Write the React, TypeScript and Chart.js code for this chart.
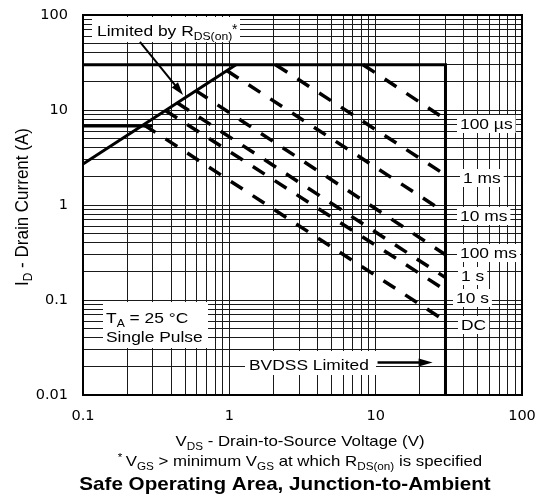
import React, { useEffect, useRef } from "react";
import { Chart, registerables } from "chart.js";

Chart.register(...registerables);

// ---- axis ticks ----
const xDecades = [0.1, 1, 10];
const yDecades = [0.01, 0.1, 1, 10];
const minorSteps = [1, 2, 3, 4, 5, 6, 7, 8, 9];
const xTickValues = [0.1, 1, 10, 100];
const xTickLabels = ["0.1", "1", "10", "100"];
const yTickValues = [0.01, 0.1, 1, 10, 100];
const yTickLabels = ["0.01", "0.1", "1", "10", "100"];

// ---- solid limit lines (V, A) ----
const packageLimitV = [0.1, 30, 30];
const packageLimitI = [30, 30, 0.01];
const rdsLimitV = [0.1, 1.11];
const rdsLimitI = [2.7, 30];
const dcCurrentV = [0.1, 0.3];
const dcCurrentI = [6.8, 6.8];

// ---- dashed pulse lines ----
const pulseLabels = ["100 µs", "1 ms", "10 ms", "100 ms", "1 s", "10 s", "DC"];
const pulseStartV = [8.2, 2.07, 0.96, 0.59, 0.44, 0.365, 0.26];
const pulseStartI = [30, 30, 26, 16, 11.9, 9.9, 7.0];
const pulseEndV = [30, 30, 30, 30, 30, 30, 30];
const pulseEndI = [8.0, 2.07, 0.83, 0.3, 0.172, 0.127, 0.06];

// ---- annotation arrows (V, A) ----
const limitedArrowV = [0.245, 0.483];
const limitedArrowI = [52, 14.4];
const bvdssArrowV = [10.3, 24.5];
const bvdssArrowI = [0.022, 0.022];

const FAMILY = '"Liberation Sans", Arial, Helvetica, sans-serif';
const SX = 1.16;

type Part = { t: string; sub?: boolean; sup?: boolean };

const gridValues = (decades: number[], top: number) => [
  ...decades.flatMap((d) => minorSteps.map((m) => +(d * m).toPrecision(6))),
  top,
];

const labelFor = (value: any, values: number[], labels: string[]) => {
  const v = Number(value);
  const k = values.findIndex((t) => Math.abs(Math.log10(t) - Math.log10(v)) < 1e-6);
  return k < 0 ? "" : labels[k];
};

function fontFor(size: number, bold?: boolean) {
  return `${bold ? "bold " : ""}${size}px ${FAMILY}`;
}

function drawParts(
  ctx: CanvasRenderingContext2D,
  parts: Part[],
  x: number,
  y: number,
  o: { size?: number; bold?: boolean; sx?: number; align?: "left" | "center"; rotate?: boolean } = {}
) {
  const size = o.size ?? 15;
  const small = Math.round(size * 0.7 * 10) / 10;
  const sx = o.sx ?? SX;
  let w = 0;
  const widths = parts.map((p) => {
    ctx.font = fontFor(p.sub || p.sup ? small : size, o.bold);
    const m = ctx.measureText(p.t).width;
    w += m;
    return m;
  });
  ctx.save();
  ctx.translate(x, y);
  if (o.rotate) {
    ctx.rotate(-Math.PI / 2);
    ctx.scale(1, sx);
  } else {
    ctx.scale(sx, 1);
  }
  ctx.fillStyle = "#000";
  ctx.textAlign = "left";
  ctx.textBaseline = "alphabetic";
  let cx = o.align === "center" ? -w / 2 : 0;
  parts.forEach((p, k) => {
    ctx.font = fontFor(p.sub || p.sup ? small : size, o.bold);
    const dy = p.sub ? size * 0.25 : p.sup ? -size * 0.33 : 0;
    ctx.fillText(p.t, cx, dy);
    cx += widths[k];
  });
  ctx.restore();
  return w * (o.rotate ? 1 : sx);
}

function textWidth(ctx: CanvasRenderingContext2D, t: string, size: number) {
  ctx.font = fontFor(size);
  return ctx.measureText(t).width * SX;
}

function arrow(
  ctx: CanvasRenderingContext2D,
  x1: number,
  y1: number,
  x2: number,
  y2: number,
  lw: number,
  headLen: number,
  headHalf: number
) {
  const a = Math.atan2(y2 - y1, x2 - x1);
  const bx = x2 - headLen * Math.cos(a);
  const by = y2 - headLen * Math.sin(a);
  ctx.save();
  ctx.strokeStyle = "#000";
  ctx.fillStyle = "#000";
  ctx.lineWidth = lw;
  ctx.beginPath();
  ctx.moveTo(x1, y1);
  ctx.lineTo(bx + Math.cos(a), by + Math.sin(a));
  ctx.stroke();
  ctx.beginPath();
  ctx.moveTo(x2, y2);
  ctx.lineTo(bx + headHalf * Math.sin(a), by - headHalf * Math.cos(a));
  ctx.lineTo(bx - headHalf * Math.sin(a), by + headHalf * Math.cos(a));
  ctx.closePath();
  ctx.fill();
  ctx.restore();
}

// label layout (pixel baselines / left edges)
const pulseLabelX = [460, 463, 460, 460, 461, 456, 461];
const pulseLabelY = [129, 183, 221, 258, 281, 303, 330];

const annotationPlugin = {
  id: "soaAnnotations",
  beforeDatasetsDraw(chart: any) {
    const ctx: CanvasRenderingContext2D = chart.ctx;
    ctx.save();
    ctx.fillStyle = "#fff";
    ctx.fillRect(92, 17, 148, 25);
    ctx.fillRect(103, 302, 105, 46);
    ctx.fillRect(245, 351, 131, 24);
    pulseLabels.forEach((t, k) => {
      const w = textWidth(ctx, t, 15);
      ctx.fillRect(pulseLabelX[k] - 3, pulseLabelY[k] - 14, w + 6, 18);
    });
    ctx.restore();
  },
  afterDraw(chart: any) {
    const ctx: CanvasRenderingContext2D = chart.ctx;
    const xs = chart.scales.x;
    const ys = chart.scales.y;
    const a = chart.chartArea;

    // frame
    ctx.save();
    ctx.strokeStyle = "#000";
    ctx.lineWidth = 2;
    ctx.strokeRect(a.left, a.top, a.right - a.left, a.bottom - a.top);
    ctx.restore();

    // annotations inside the plot
    drawParts(ctx, [{ t: "Limited by R" }, { t: "DS(on)", sub: true }], 97, 36);
    ctx.save();
    ctx.font = fontFor(14);
    ctx.fillStyle = "#000";
    ctx.fillText("*", 232, 34);
    ctx.restore();
    arrow(
      ctx,
      xs.getPixelForValue(limitedArrowV[0]),
      ys.getPixelForValue(limitedArrowI[0]),
      xs.getPixelForValue(limitedArrowV[1]),
      ys.getPixelForValue(limitedArrowI[1]),
      2,
      13,
      4
    );

    drawParts(ctx, [{ t: "T" }, { t: "A", sub: true }, { t: " = 25 °C" }], 106, 323);
    drawParts(ctx, [{ t: "Single Pulse" }], 106, 342);

    drawParts(ctx, [{ t: "BVDSS Limited" }], 249, 370);
    arrow(
      ctx,
      xs.getPixelForValue(bvdssArrowV[0]),
      ys.getPixelForValue(bvdssArrowI[0]),
      xs.getPixelForValue(bvdssArrowV[1]),
      ys.getPixelForValue(bvdssArrowI[1]),
      2.5,
      14,
      4
    );

    pulseLabels.forEach((t, k) => {
      drawParts(ctx, [{ t }], pulseLabelX[k], pulseLabelY[k]);
    });

    // axis titles
    drawParts(
      ctx,
      [{ t: "I" }, { t: "D", sub: true }, { t: " - Drain Current (A)" }],
      28,
      207,
      { size: 17, sx: 1.05, align: "center", rotate: true }
    );
    drawParts(
      ctx,
      [{ t: "V" }, { t: "DS", sub: true }, { t: " - Drain-to-Source Voltage (V)" }],
      300,
      446,
      { size: 14.5, align: "center" }
    );
    drawParts(
      ctx,
      [
        { t: "* ", sup: true },
        { t: "V" },
        { t: "GS", sub: true },
        { t: " > minimum V" },
        { t: "GS", sub: true },
        { t: " at which R" },
        { t: "DS(on)", sub: true },
        { t: " is specified" },
      ],
      300,
      466,
      { size: 14.5, align: "center" }
    );
    drawParts(ctx, [{ t: "Safe Operating Area, Junction-to-Ambient" }], 285, 490, {
      size: 17.8,
      bold: true,
      align: "center",
    });
  },
};

export default function App() {
  const ref = useRef<HTMLCanvasElement>(null);

  useEffect(() => {
    const canvas = ref.current;
    if (!canvas) return;
    const ctx = canvas.getContext("2d");
    if (!ctx) return;

    const pts = (v: number[], i: number[]) => v.map((x, k) => ({ x, y: i[k] }));
    const base = {
      showLine: true,
      borderColor: "#000",
      pointRadius: 0,
      pointHoverRadius: 0,
      fill: false,
      borderCapStyle: "butt",
      borderJoinStyle: "miter",
    };
    const datasets: any[] = [
      { ...base, label: "limit", data: pts(packageLimitV, packageLimitI), borderWidth: 3 },
      { ...base, label: "rds", data: pts(rdsLimitV, rdsLimitI), borderWidth: 3 },
      { ...base, label: "dcI", data: pts(dcCurrentV, dcCurrentI), borderWidth: 3 },
      ...pulseLabels.map((label, k) => ({
        ...base,
        label,
        data: [
          { x: pulseStartV[k], y: pulseStartI[k] },
          { x: pulseEndV[k], y: pulseEndI[k] },
        ],
        borderWidth: 3.5,
        borderDash: [14, 12],
      })),
    ];

    const xGrid = gridValues(xDecades, 100);
    const yGrid = gridValues(yDecades, 100);
    const tickFont = { family: '"DejaVu Sans", sans-serif', size: 14.5 };

    const chart = new Chart(ctx, {
      type: "scatter",
      data: { datasets },
      options: {
        animation: false,
        responsive: false,
        events: [],
        layout: { padding: { left: 0, top: 15, right: 16, bottom: 0 } },
        plugins: { legend: { display: false }, tooltip: { enabled: false } },
        scales: {
          x: {
            type: "logarithmic",
            min: 0.1,
            max: 100,
            afterBuildTicks: (s: any) => {
              s.ticks = xGrid.map((value) => ({ value }));
            },
            afterFit: (s: any) => {
              s.height = 107;
              s.paddingLeft = 0;
              s.paddingRight = 0;
            },
            grid: { color: "#1a1a1a", lineWidth: 1, drawTicks: false },
            border: { display: false },
            ticks: {
              autoSkip: false,
              maxRotation: 0,
              padding: 13,
              color: "#000",
              font: tickFont,
              callback: (v: any) => labelFor(v, xTickValues, xTickLabels),
            },
          },
          y: {
            type: "logarithmic",
            min: 0.01,
            max: 100,
            afterBuildTicks: (s: any) => {
              s.ticks = yGrid.map((value) => ({ value }));
            },
            afterFit: (s: any) => {
              s.width = 83;
              s.paddingTop = 0;
              s.paddingBottom = 0;
            },
            grid: { color: "#1a1a1a", lineWidth: 1, drawTicks: false },
            border: { display: false },
            ticks: {
              autoSkip: false,
              padding: 15,
              color: "#000",
              font: tickFont,
              callback: (v: any) => labelFor(v, yTickValues, yTickLabels),
            },
          },
        },
      } as any,
      plugins: [annotationPlugin as any],
    });

    return () => chart.destroy();
  }, []);

  return (
    <div style={{ position: "absolute", left: 0, top: 0, width: 538, height: 502, background: "#fff" }}>
      <canvas ref={ref} width={538} height={502} style={{ display: "block" }} />
    </div>
  );
}
